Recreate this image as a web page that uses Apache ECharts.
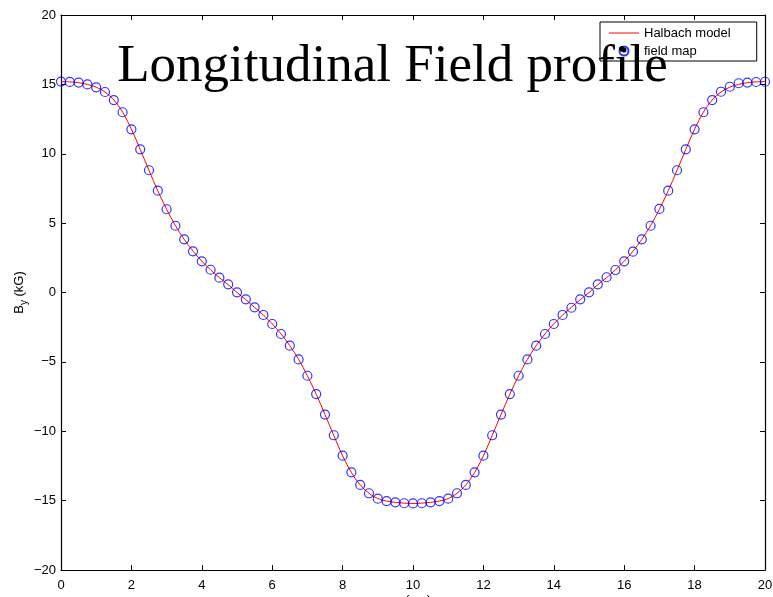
<!DOCTYPE html>
<html>
<head>
<meta charset="utf-8">
<script src="https://cdn.jsdelivr.net/npm/echarts@6/dist/echarts.min.js"></script>
<style>
  html, body { margin: 0; padding: 0; background: #fff; }
  #chart { width: 773px; height: 597px; }
</style>
</head>
<body>
<div id="chart"></div>
<script>
// Longitudinal positions along the undulator period (cm)
const zPositions = [
  0, 0.25, 0.5, 0.75, 1, 1.25, 1.5, 1.75, 2, 2.25, 2.5, 2.75, 3, 3.25, 3.5, 3.75,
  4, 4.25, 4.5, 4.75, 5, 5.25, 5.5, 5.75, 6, 6.25, 6.5, 6.75, 7, 7.25, 7.5, 7.75,
  8, 8.25, 8.5, 8.75, 9, 9.25, 9.5, 9.75, 10, 10.25, 10.5, 10.75, 11, 11.25, 11.5, 11.75,
  12, 12.25, 12.5, 12.75, 13, 13.25, 13.5, 13.75, 14, 14.25, 14.5, 14.75, 15, 15.25, 15.5, 15.75,
  16, 16.25, 16.5, 16.75, 17, 17.25, 17.5, 17.75, 18, 18.25, 18.5, 18.75, 19, 19.25, 19.5, 19.75, 20
];

// Vertical field B_y (kG), Halbach model
const halbachModel = [
  15.2, 15.18, 15.12, 15.0, 14.8, 14.45, 13.88, 13.0, 11.77, 10.32, 8.8, 7.33, 6.0, 4.82, 3.83, 2.98,
  2.26, 1.63, 1.07, 0.56, 0.0, -0.52, -1.07, -1.63, -2.26, -2.98, -3.83, -4.82, -6.0, -7.33, -8.8, -10.3,
  -11.77, -12.97, -13.87, -14.47, -14.85, -15.03, -15.12, -15.18, -15.2, -15.18, -15.12, -15.03, -14.85, -14.47, -13.87, -12.97,
  -11.77, -10.3, -8.8, -7.33, -6.0, -4.82, -3.83, -2.98, -2.26, -1.63, -1.07, -0.52, 0.0, 0.56, 1.07, 1.63,
  2.26, 2.98, 3.83, 4.82, 6.0, 7.33, 8.8, 10.32, 11.77, 13.0, 13.88, 14.45, 14.8, 15.0, 15.12, 15.18, 15.2
];

// Vertical field B_y (kG), measured field map
const fieldMap = [
  15.2, 15.18, 15.13, 15.0, 14.79, 14.45, 13.87, 12.99, 11.76, 10.32, 8.81, 7.34, 6.0, 4.81, 3.83, 2.97,
  2.25, 1.64, 1.07, 0.59, 0.01, -0.49, -1.07, -1.62, -2.27, -2.99, -3.83, -4.82, -6.0, -7.32, -8.8, -10.29,
  -11.76, -12.96, -13.87, -14.47, -14.86, -15.03, -15.12, -15.19, -15.2, -15.19, -15.12, -15.03, -14.86, -14.47, -13.87, -12.96,
  -11.76, -10.29, -8.8, -7.32, -6.0, -4.82, -3.83, -2.99, -2.27, -1.62, -1.1, -0.49, 0.01, 0.59, 1.1, 1.62,
  2.25, 2.94, 3.83, 4.81, 6.02, 7.34, 8.81, 10.32, 11.76, 12.99, 13.87, 14.47, 14.83, 15.08, 15.13, 15.17, 15.19
];

const seriesNames = ['Halbach model', 'field map'];

const modelPairs = zPositions.map((z, i) => [z, halbachModel[i]]);
const mapPairs = zPositions.map((z, i) => [z, fieldMap[i]]);

const sansFont = '"Liberation Sans", Arial, Helvetica, sans-serif';
const minusFmt = v => String(v).replace('-', '\u2212');

const tickStyle = { show: true, inside: true, length: 5, lineStyle: { color: '#000', width: 1 } };
const lineStyle = { show: true, onZero: false, lineStyle: { color: '#000', width: 1.2 } };

const chart = echarts.init(document.getElementById('chart'), null, { renderer: 'canvas' });

chart.setOption({
  animation: false,
  backgroundColor: '#fff',
  grid: { left: 61, right: 8, top: 15, bottom: 27, containLabel: false, outerBoundsMode: 'none' },
  legend: {
    orient: 'vertical',
    left: 600,
    top: 22,
    padding: [4, 26, 3, 9],
    itemGap: 4,
    itemWidth: 30,
    itemHeight: 9,
    backgroundColor: '#fff',
    borderColor: '#000',
    borderWidth: 1,
    borderRadius: 0,
    z: 3,
    textStyle: { fontFamily: sansFont, fontSize: 13, color: '#000', lineHeight: 14 },
    data: [
      { name: seriesNames[0], icon: 'path://M0,0 L30,0 L30,1 L0,1 Z', itemStyle: { color: '#ff0000' } },
      { name: seriesNames[1] }
    ]
  },
  xAxis: [
    {
      type: 'value', min: 0, max: 20, interval: 2,
      name: 'z (cm)', nameLocation: 'middle', nameGap: 24, nameMoveOverlap: false,
      nameTextStyle: { fontFamily: sansFont, fontSize: 13, color: '#000', lineHeight: 13 },
      axisLine: lineStyle, axisTick: tickStyle,
      axisLabel: { fontFamily: sansFont, fontSize: 13, color: '#000', margin: 9, formatter: minusFmt },
      splitLine: { show: false }
    },
    {
      type: 'value', position: 'top', min: 0, max: 20, interval: 2,
      axisLine: lineStyle, axisTick: tickStyle,
      axisLabel: { show: false }, splitLine: { show: false }
    }
  ],
  yAxis: [
    {
      type: 'value', min: -20, max: 20, interval: 5,
      name: '{b|B}{s|y}{b| (kG)}', nameLocation: 'middle', nameGap: 32, nameRotate: 90, nameMoveOverlap: false,
      nameTextStyle: {
        fontFamily: sansFont, color: '#000',
        rich: {
          b: { fontFamily: sansFont, fontSize: 13, color: '#000', lineHeight: 16, verticalAlign: 'top' },
          s: { fontFamily: sansFont, fontSize: 10, color: '#000', lineHeight: 16, verticalAlign: 'bottom', padding: [8, 0, 0, 0] }
        }
      },
      axisLine: lineStyle, axisTick: tickStyle,
      axisLabel: { fontFamily: sansFont, fontSize: 13, color: '#000', margin: 5, formatter: minusFmt },
      splitLine: { show: false }
    },
    {
      type: 'value', position: 'right', min: -20, max: 20, interval: 5,
      axisLine: lineStyle, axisTick: tickStyle,
      axisLabel: { show: false }, splitLine: { show: false }
    }
  ],
  series: [
    {
      name: seriesNames[0],
      type: 'line',
      data: modelPairs,
      smooth: 0.35,
      symbol: 'none',
      lineStyle: { color: '#ff0000', width: 1 },
      itemStyle: { color: '#ff0000' },
      z: 2
    },
    {
      name: seriesNames[1],
      type: 'scatter',
      data: mapPairs,
      symbol: 'circle',
      symbolSize: 9,
      itemStyle: { color: 'rgba(255,255,255,0)', borderColor: '#0000ff', borderWidth: 1.2 },
      z: 3
    }
  ],
  graphic: [
    {
      type: 'text',
      x: 392.5,
      y: 67,
      z: 10,
      style: {
        text: 'Longitudinal Field profile',
        font: '53px "Liberation Serif", "Times New Roman", serif',
        fill: '#000',
        align: 'center',
        verticalAlign: 'middle'
      }
    },
    {
      type: 'circle',
      z: 11,
      shape: { cx: 624, cy: 50, r: 2.5 },
      style: { fill: '#000' }
    }
  ]
});
</script>
</body>
</html>
